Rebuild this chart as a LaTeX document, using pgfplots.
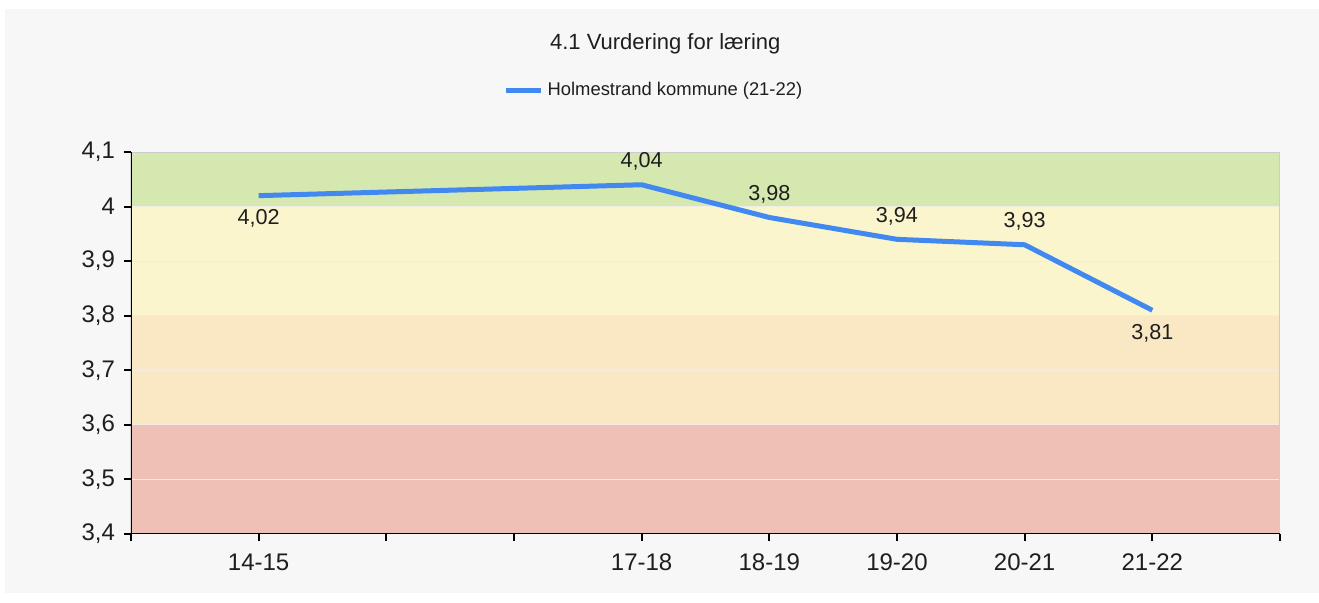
\documentclass[border=0pt]{standalone}
\usepackage{fontspec}
\setmainfont{Liberation Sans}
\usepackage{pgfplots}
\usepackage{pgfplotstable}
\pgfplotsset{compat=1.18}

\definecolor{panel}{HTML}{F7F7F7}
\definecolor{bandgreen}{HTML}{D4E8B0}
\definecolor{bandyellow}{HTML}{FAF5CD}
\definecolor{bandorange}{HTML}{FAE8C4}
\definecolor{bandred}{HTML}{EFC0B6}
\definecolor{gridc}{HTML}{F0EDE6}
\definecolor{lineblue}{HTML}{4189F0}
\definecolor{txt}{HTML}{1E1E1E}

\pgfplotstableread{
x y
1 4.02
4 4.04
5 3.98
6 3.94
7 3.93
8 3.81
}\holmestrand
% points whose value label sits above the line
\pgfplotstableread{
x y
4 4.04
5 3.98
6 3.94
7 3.93
}\labelsabove
% points whose value label sits below the line
\pgfplotstableread{
x y
1 4.02
8 3.81
}\labelsbelow

\pgfplotsset{
    vallabel/.style={only marks, mark=none, forget plot,
        point meta=y,
        nodes near coords={\pgfmathprintnumber[fixed, fixed zerofill, precision=2, use comma, assume math mode=true]{\pgfplotspointmeta}},
        every node near coord/.append style={anchor=center, yshift=#1,
            font=\fontsize{10.8}{12}\selectfont, text=txt}},
}

\begin{document}
\begin{tikzpicture}
\fill[white] (-65.5pt,-34.5pt) rectangle (594pt,267pt);
\fill[panel] (-63pt,-29.5pt) rectangle (594pt,262.5pt);
\begin{axis}[
    scale only axis,
    width=574.5pt, height=191pt,
    xmin=0, xmax=9, ymin=3.4, ymax=4.1,
    xtick={0,1,2,3,4,5,6,7,8,9},
    xticklabels={,14-15,,,17-18,18-19,19-20,20-21,21-22,},
    ytick={3.4,3.5,3.6,3.7,3.8,3.9,4.0,4.1},
    yticklabel style={/pgf/number format/fixed, /pgf/number format/precision=1,
        /pgf/number format/use comma, xshift=-1pt},
    /pgf/number format/assume math mode=true,
    xtick pos=bottom, ytick pos=left,
    tick align=outside,
    major tick length=3.5pt,
    tick style={black, line width=1pt},
    axis line style={draw=none},
    tick label style={font=\fontsize{12}{14}\selectfont, text=txt},
    xticklabel style={yshift=-3pt},
    title={4.1 Vurdering for læring},
    title style={at={(0.465,1.251)}, anchor=center,
        font=\fontsize{11}{13}\selectfont, text=txt},
    legend style={at={(0.456,1.162)}, anchor=center, draw=none, fill=none,
        font=\fontsize{9.2}{11}\selectfont, text=txt},
    legend image code/.code={\draw[#1, line width=2.5pt] (0pt,0pt) -- (17.5pt,0pt);},
]
% rating bands
\fill[bandgreen] (axis cs:0,4.0) rectangle (axis cs:9,4.1);
\fill[bandyellow] (axis cs:0,3.8) rectangle (axis cs:9,4.0);
\fill[bandorange] (axis cs:0,3.6) rectangle (axis cs:9,3.8);
\fill[bandred] (axis cs:0,3.4) rectangle (axis cs:9,3.6);
% horizontal grid lines
\draw[gridc, line width=0.6pt]
    (axis cs:0,3.5) -- (axis cs:9,3.5)
    (axis cs:0,3.6) -- (axis cs:9,3.6)
    (axis cs:0,3.7) -- (axis cs:9,3.7)
    (axis cs:0,3.8) -- (axis cs:9,3.8)
    (axis cs:0,3.9) -- (axis cs:9,3.9)
    (axis cs:0,4.0) -- (axis cs:9,4.0);

\addplot[color=lineblue, line width=2.5pt, line join=round, no markers] table {\holmestrand};
\addlegendentry{Holmestrand kommune (21-22)}
\addplot[vallabel=11.5pt] table {\labelsabove};
\addplot[vallabel=-11.5pt] table {\labelsbelow};

\draw[white!80!black, line width=0.6pt] (rel axis cs:0,1) -- (rel axis cs:1,1) -- (rel axis cs:1,0);
\draw[black, line width=1pt] (rel axis cs:0,1) -- (rel axis cs:0,0) -- (rel axis cs:1,0);
\end{axis}
\end{tikzpicture}
\end{document}
